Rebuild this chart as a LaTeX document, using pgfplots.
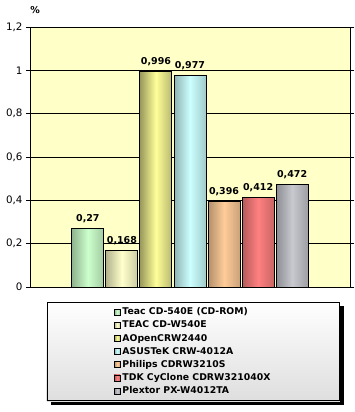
\documentclass[border=0pt]{standalone}
\usepackage{pgfplots}
\pgfplotsset{compat=1.18}
\usepackage{fontspec}
\setmainfont{DejaVu Sans}
\pgfdeclarelayer{bgl}
\pgfsetlayers{bgl,main}
\definecolor{bg}{HTML}{FFFFC8}
\definecolor{cA}{HTML}{CCFFCC}\definecolor{dA}{HTML}{8FB38F}
\definecolor{cB}{HTML}{FFFFCC}\definecolor{dB}{HTML}{B3B38F}
\definecolor{cC}{HTML}{FFFF99}\definecolor{dC}{HTML}{99995C}
\definecolor{cD}{HTML}{CCFFFF}\definecolor{dD}{HTML}{8FB3B3}
\definecolor{cE}{HTML}{FFCC99}\definecolor{dE}{HTML}{B38F6B}
\definecolor{cF}{HTML}{FF8080}\definecolor{dF}{HTML}{B35A5A}
\definecolor{cG}{HTML}{C8C8D0}\definecolor{dG}{HTML}{8C8C92}
\pgfplotsset{
  mybar/.style 2 args={ybar, bar width=0.94, bar shift=0pt,
    fill=#1, draw=black, line width=1pt,
    left color=#2, right color=#2!70!#1, middle color=#1,
    legend image code/.code={\path[draw=black,line width=0.5pt,fill=#1] (0pt,-3pt) rectangle (6pt,3pt);}},
}
\begin{document}
\begin{tikzpicture}
\path[use as bounding box] (-30pt,-125pt) rectangle (325pt,287pt);
\begin{axis}[
  scale only axis, width=320pt, height=260pt,
  at={(0,0)}, anchor=south west,
  xmin=-1.7, xmax=7.7, ymin=0, ymax=1.2,
  ytick={0,0.2,0.4,0.6,0.8,1,1.2},
  xtick=\empty,
  ymajorgrids, grid style={black, line width=0.6pt},
  axis background/.style={fill=bg},
  axis line style={black, line width=0.8pt},
  tick style={black, line width=0.6pt},
  tick align=outside, major tick length=4pt,
  yticklabel style={font=\fontsize{10.3}{12}\selectfont},
  /pgf/number format/.cd, use comma, precision=3, assume math mode=true,
  /pgfplots/.cd,
  nodes near coords,
  nodes near coords style={font=\fontsize{9.5}{11}\selectfont\bfseries, /pgf/number format/assume math mode=true, anchor=south, yshift=2pt},
  legend cell align=left,
  legend style={at={(axis description cs:0.51,-0.058)}, anchor=north, name=leg,
    font=\fontsize{9.3}{11}\selectfont\bfseries,
    draw=black, line width=0.8pt, fill=none,
    inner xsep=67pt, inner ysep=3pt, row sep=0pt,
    nodes={inner xsep=2pt, inner ysep=2.35pt}},
  clip=false,
]
\addplot[mybar={cA}{dA}] coordinates {(0,0.27)};
\addlegendentry{Teac CD-540E (CD-ROM)}
\addplot[mybar={cB}{dB}] coordinates {(1,0.168)};
\addlegendentry{TEAC CD-W540E}
\addplot[mybar={cC}{dC}] coordinates {(2,0.996)};
\addlegendentry{AOpenCRW2440}
\addplot[mybar={cD}{dD}] coordinates {(3,0.977)};
\addlegendentry{ASUSTeK CRW-4012A}
\addplot[mybar={cE}{dE}] coordinates {(4,0.396)};
\addlegendentry{Philips CDRW3210S}
\addplot[mybar={cF}{dF}] coordinates {(5,0.412)};
\addlegendentry{TDK CyClone CDRW321040X}
\addplot[mybar={cG}{dG}] coordinates {(6,0.472)};
\addlegendentry{Plextor PX-W4012TA}
\node[font=\fontsize{9.5}{11}\selectfont\bfseries] at (axis description cs:0.016,1.065) {\%};
\end{axis}
\begin{pgfonlayer}{bgl}
\fill[black] ([shift={(4pt,-4pt)}]leg.south west) rectangle ([shift={(4pt,-4pt)}]leg.north east);
\shade[top color=white, bottom color=black!13] (leg.south west) rectangle (leg.north east);
\end{pgfonlayer}
\end{tikzpicture}
\end{document}
